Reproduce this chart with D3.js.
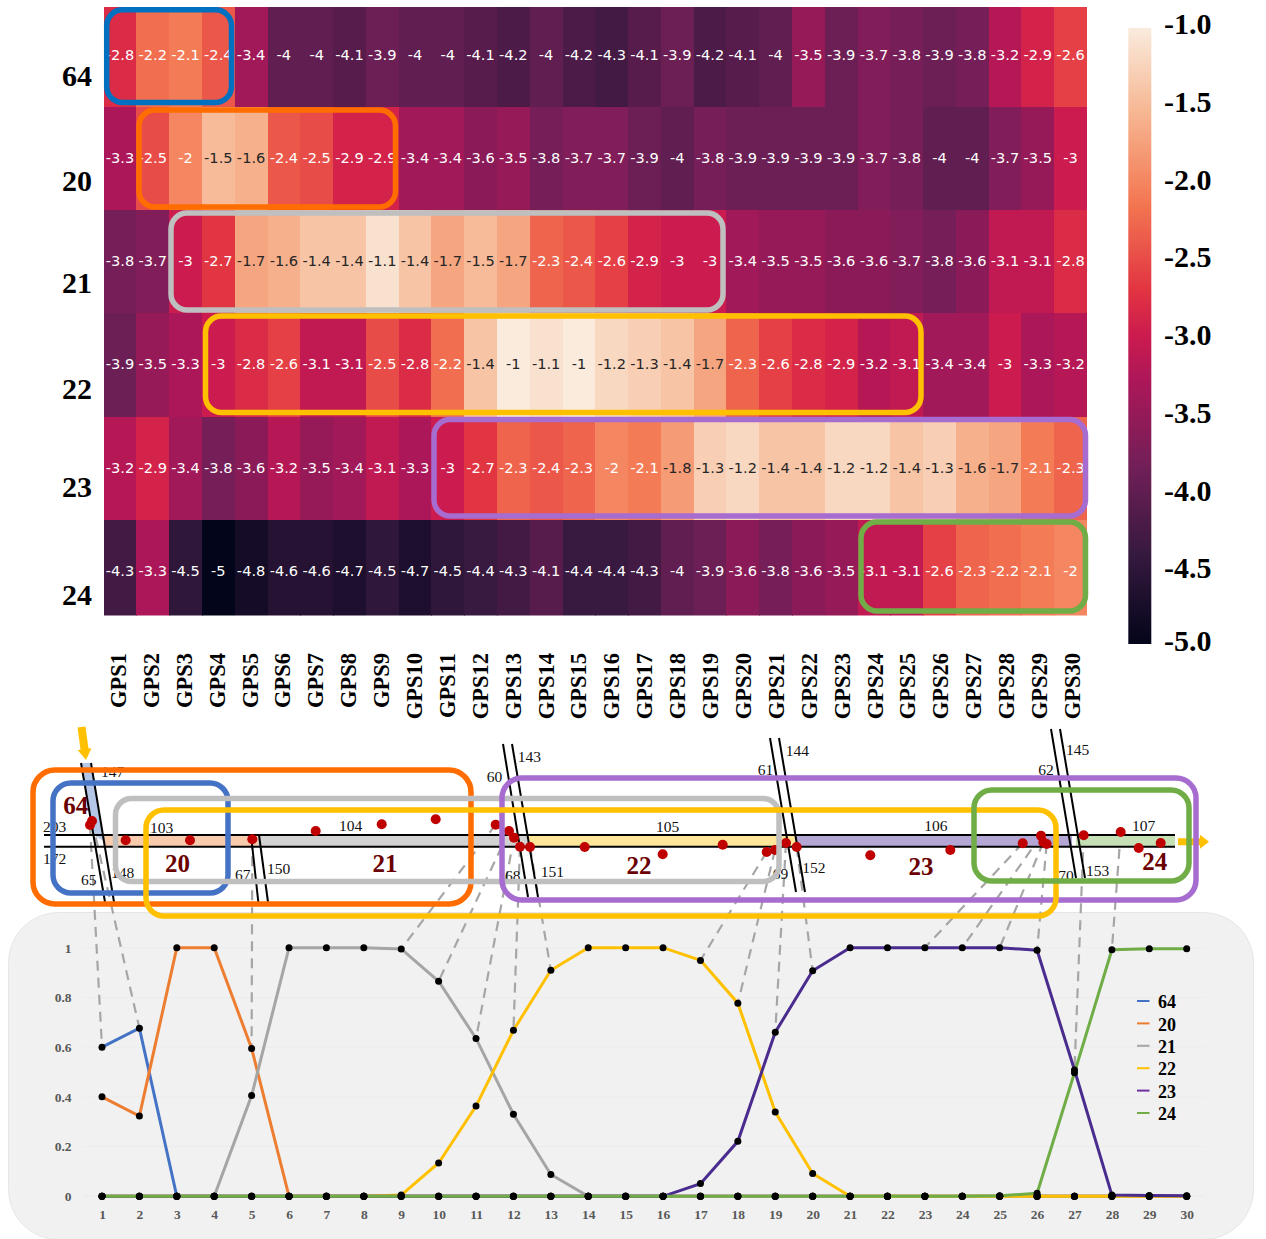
<!DOCTYPE html>
<html>
<head>
<meta charset="utf-8">
<script src="https://cdn.jsdelivr.net/npm/d3@7"></script>
<style>
html,body{margin:0;padding:0;background:#fff;}
svg{display:block;}
</style>
</head>
<body>
<svg id="c" width="1266" height="1239"></svg>
<script>
// ---------- Data ----------
const rowNames = ["64","20","21","22","23","24"];
const gpsNames = d3.range(1,31).map(i=>"GPS"+i);
const h64 = [-2.8,-2.2,-2.1,-2.4,-3.4,-4,-4,-4.1,-3.9,-4,-4,-4.1,-4.2,-4,-4.2,-4.3,-4.1,-3.9,-4.2,-4.1,-4,-3.5,-3.9,-3.7,-3.8,-3.9,-3.8,-3.2,-2.9,-2.6];
const h20 = [-3.3,-2.5,-2,-1.5,-1.6,-2.4,-2.5,-2.9,-2.9,-3.4,-3.4,-3.6,-3.5,-3.8,-3.7,-3.7,-3.9,-4,-3.8,-3.9,-3.9,-3.9,-3.9,-3.7,-3.8,-4,-4,-3.7,-3.5,-3];
const h21 = [-3.8,-3.7,-3,-2.7,-1.7,-1.6,-1.4,-1.4,-1.1,-1.4,-1.7,-1.5,-1.7,-2.3,-2.4,-2.6,-2.9,-3,-3,-3.4,-3.5,-3.5,-3.6,-3.6,-3.7,-3.8,-3.6,-3.1,-3.1,-2.8];
const h22 = [-3.9,-3.5,-3.3,-3,-2.8,-2.6,-3.1,-3.1,-2.5,-2.8,-2.2,-1.4,-1,-1.1,-1,-1.2,-1.3,-1.4,-1.7,-2.3,-2.6,-2.8,-2.9,-3.2,-3.1,-3.4,-3.4,-3,-3.3,-3.2];
const h23 = [-3.2,-2.9,-3.4,-3.8,-3.6,-3.2,-3.5,-3.4,-3.1,-3.3,-3,-2.7,-2.3,-2.4,-2.3,-2,-2.1,-1.8,-1.3,-1.2,-1.4,-1.4,-1.2,-1.2,-1.4,-1.3,-1.6,-1.7,-2.1,-2.3];
const h24 = [-4.3,-3.3,-4.5,-5,-4.8,-4.6,-4.6,-4.7,-4.5,-4.7,-4.5,-4.4,-4.3,-4.1,-4.4,-4.4,-4.3,-4,-3.9,-3.6,-3.8,-3.6,-3.5,-3.1,-3.1,-2.6,-2.3,-2.2,-2.1,-2];
const heatRows = [h64,h20,h21,h22,h23,h24];
const cbTicks = [-1,-1.5,-2,-2.5,-3,-3.5,-4,-4.5,-5];

const p64 = [0.6,0.676,0,0,0,0,0,0,0,0,0,0,0,0,0,0,0,0,0,0,0,0,0,0,0,0,0,0,0,0];
const p20 = [0.4,0.323,1,1,0.595,0,0,0,0,0,0,0,0,0,0,0,0,0,0,0,0,0,0,0,0,0,0,0,0,0];
const p21 = [0,0,0,0,0.405,1,1,1,0.995,0.865,0.635,0.33,0.088,0,0,0,0,0,0,0,0,0,0,0,0,0,0,0,0,0];
const p22 = [0,0,0,0,0,0,0,0,0.005,0.134,0.363,0.668,0.909,1,1,1,0.949,0.777,0.339,0.092,0,0,0,0,0,0,0,0,0,0];
const p23 = [0,0,0,0,0,0,0,0,0,0,0,0,0,0,0,0,0.051,0.221,0.66,0.907,1,1,1,1,1,0.99,0.508,0.005,0.003,0.002];
const p24 = [0,0,0,0,0,0,0,0,0,0,0,0,0,0,0,0,0,0,0,0,0,0,0,0,0.002,0.012,0.497,0.992,0.996,0.996];
const probSeries = [p64,p20,p21,p22,p23,p24];

// GPS positions along the genome schematic
const gpsPos = [90,92,125.7,190,252.3,315.7,381.7,435.7,495.7,509,514,520,530,584.7,662.7,722.7,766.7,775,786,796.7,870.3,950.3,1022.7,1041,1043.3,1046.7,1083.7,1120.7,1138.7,1160.7];
const gpsLift = [825,821,840.3,840.3,839.3,831,824.3,819.3,824.7,831,837.7,846.7,847,847,854.3,844.7,852,850,843,847,855.3,850,843.3,835.7,842.3,844,835.3,832,848,843];
const linkedGps = [1,2,5,9,10,11,12,13,17,18,19,20,23,24,25,26,27,28];

// ---------- Styles & layout ----------
const svg = d3.select("#c");
const serif = '"Liberation Serif","Times New Roman",serif';
const rocket = ["#03051a","#35193e","#701f57","#ad1759","#cb1b4f","#e13342","#f37651","#f6b48f","#faebdd"];
const rocketT = [0,1/7,2/7,3/7,0.5,4/7,5/7,6/7,1];
const color = d3.scaleLinear().domain(rocketT.map(t=>-5+4*t)).range(rocket).interpolate(d3.interpolateRgb);

const heatL=103.6, heatR=1087, heatTop=3.4, heatBot=623.2, clipTop=7, clipBot=615.6;
const xH = d3.scaleBand().domain(gpsNames).range([heatL,heatR]);
const yH = d3.scaleBand().domain(rowNames).range([heatTop,heatBot]);

svg.append("defs").append("clipPath").attr("id","hc").append("rect")
  .attr("x",heatL).attr("y",clipTop).attr("width",heatR-heatL).attr("height",clipBot-clipTop);

// ---------- Heatmap ----------
const gH = svg.append("g").attr("clip-path","url(#hc)");
const cells = rowNames.flatMap((r,i)=>gpsNames.map((g,j)=>({r,g,v:heatRows[i][j]})));
gH.selectAll("rect").data(cells).join("rect")
  .attr("x",d=>xH(d.g)).attr("y",d=>yH(d.r))
  .attr("width",xH.bandwidth()+0.6).attr("height",yH.bandwidth()+0.6)
  .attr("shape-rendering","crispEdges")
  .attr("fill",d=>color(d.v));
gH.selectAll("text").data(cells).join("text")
  .attr("x",d=>xH(d.g)+xH.bandwidth()/2).attr("y",d=>yH(d.r)+yH.bandwidth()/2-0.8)
  .attr("dy",".36em").attr("text-anchor","middle")
  .attr("font-family","DejaVu Sans").attr("font-size",14.6)
  .attr("fill",d=>d.v>-1.9?"#262626":"#fff")
  .text(d=>String(d.v));

// Row labels
const rowLabelY = {"64":76,"20":181,"21":282.5,"22":389,"23":487,"24":595};
svg.append("g").selectAll("text").data(rowNames).join("text")
  .attr("x",77).attr("y",d=>rowLabelY[d]).attr("dy",".34em").attr("text-anchor","middle")
  .attr("font-family",serif).attr("font-weight","bold").attr("font-size",30).text(d=>d);

// GPS labels
const xGps = d3.scalePoint().domain(gpsNames).range([118.5,1072.5]);
svg.append("g").selectAll("text").data(gpsNames).join("text")
  .attr("transform",d=>`translate(${xGps(d)},653) rotate(-90)`)
  .attr("text-anchor","end").attr("dy",".33em")
  .attr("font-family",serif).attr("font-weight","bold").attr("font-size",22.5).text(d=>d);

// Colourbar
const cbY = d3.scaleLinear().domain([-1,-5]).range([28,644]);
const cbGrad = svg.select("defs").append("linearGradient").attr("id","cb").attr("x1",0).attr("x2",0).attr("y1",0).attr("y2",1);
rocketT.slice().reverse().forEach((t,i)=>cbGrad.append("stop").attr("offset",1-t).attr("stop-color",color(-5+4*t)));
svg.append("rect").attr("x",1128.3).attr("y",cbY(-1)).attr("width",23).attr("height",cbY(-5)-cbY(-1)).attr("fill","url(#cb)");
const cbLabY = d3.scaleLinear().domain([-1,-5]).range([24,646]);
svg.append("g").selectAll("text").data(cbTicks).join("text")
  .attr("x",1164).attr("y",d=>Math.min(cbLabY(d),641)).attr("dy",".34em")
  .attr("font-family",serif).attr("font-weight","bold").attr("font-size",30)
  .text(d=>d.toFixed(1));

// Heatmap boxes
const box = (g,x0,y0,x1,y1,c,w,r)=>g.append("rect").attr("x",x0).attr("y",y0).attr("width",x1-x0).attr("height",y1-y0)
  .attr("rx",r).attr("ry",r).attr("fill","none").attr("stroke",c).attr("stroke-width",w);
const gB = svg.append("g");
box(gB,106.7,9.8,231.5,102.5,"#0070c0",5.5,16);
box(gB,139,110,395.5,207,"#ff6d00",5.5,16);
box(gB,171,213,723,310,"#bfbfbf",5.5,16);
box(gB,205.5,316,921,412.5,"#ffc000",5.5,16);
box(gB,434,419.5,1085.5,516,"#a66cd0",5.5,16);
box(gB,861,522,1085.5,611,"#70ad47",5.5,16);

// ---------- Line chart panel ----------
svg.append("rect").attr("x",8.5).attr("y",912.5).attr("width",1245).attr("height",327)
  .attr("rx",50).attr("ry",50).attr("fill","#f1f1f1").attr("stroke","#e6e6e6");

const xL = d3.scaleLinear().domain([1,30]).range([102,1186.7]);
const yL = d3.scaleLinear().domain([0,1]).range([1196.3,947.7]);
const idx = d3.range(1,31);

const gGrid = svg.append("g");
gGrid.selectAll("line").data(yL.ticks(5)).join("line")
  .attr("x1",83).attr("x2",1205).attr("y1",d=>yL(d)).attr("y2",d=>yL(d))
  .attr("stroke","#ececec").attr("stroke-width",1);

const xAxis = d3.axisBottom(xL).tickValues(idx).tickSize(0).tickPadding(0);
const yAxis = d3.axisLeft(yL).ticks(5).tickSize(0).tickPadding(0).tickFormat(d=>String(d));
const styleAxis = g=>{g.select(".domain").remove();
  g.selectAll("text").attr("font-family",serif).attr("font-weight","bold").attr("font-size",13.5).attr("fill","#595959");};
svg.append("g").attr("transform","translate(0,1209.5)").call(xAxis).call(styleAxis);
svg.append("g").attr("transform","translate(71.5,0)").call(yAxis).call(styleAxis);

// Dashed links
const maxAt = i=>d3.max(probSeries,s=>s[i]);
svg.append("g").selectAll("line").data(linkedGps).join("line")
  .attr("x1",d=>gpsPos[d-1]).attr("y1",d=>gpsLift[d-1])
  .attr("x2",d=>xL(d)).attr("y2",d=>yL(maxAt(d-1)))
  .attr("stroke","#a6a6a6").attr("stroke-width",2.2).attr("stroke-dasharray","10 7");

// Lines and points
const lineColors = ["#4472c4","#ed7d31","#a5a5a5","#ffc000","#4a2c8f","#70ad47"];
const line = d3.line().x((d,i)=>xL(i+1)).y(d=>yL(d));
svg.append("g").selectAll("path").data(probSeries).join("path")
  .attr("d",line).attr("fill","none").attr("stroke",(d,i)=>lineColors[i]).attr("stroke-width",3);
const gPts = svg.append("g");
probSeries.forEach(s=>{
  gPts.append("g").selectAll("circle").data(s).join("circle")
    .attr("cx",(d,i)=>xL(i+1)).attr("cy",d=>yL(d)).attr("r",3.5).attr("fill","#000");
});

// Legend
const legendColors = ["#4472c4","#ed7d31","#a5a5a5","#ffc000","#7030a0","#70ad47"];
const yLeg = d3.scalePoint().domain(rowNames).range([1001,1113]);
const gLeg = svg.append("g");
gLeg.selectAll("line").data(rowNames).join("line")
  .attr("x1",1137).attr("x2",1149.5).attr("y1",d=>yLeg(d)).attr("y2",d=>yLeg(d))
  .attr("stroke",(d,i)=>legendColors[i]).attr("stroke-width",2);
gLeg.selectAll("text").data(rowNames).join("text")
  .attr("x",1158).attr("y",d=>yLeg(d)+1).attr("dy",".34em")
  .attr("font-family",serif).attr("font-weight","bold").attr("font-size",18).text(d=>d);

// ---------- Genome schematic ----------
const gG = svg.append("g");
const slash = [
  {a:[81,763,105,902],b:[91,763,114,902]},
  {a:[251,835,258.3,902],b:[259,835,268,902]},
  {a:[503,744,528,897],b:[512,744,538,897]},
  {a:[770,738,796,892],b:[779,738,805,892]},
  {a:[1051,729,1076,878],b:[1060,729,1085,878]}
];
const at = (l,y)=>l[0]+(y-l[1])/(l[3]-l[1])*(l[2]-l[0]);
gG.append("polygon").attr("fill","#b4c7e7")
  .attr("points",[[81,763],[91,763],[at(slash[0].b,841),841],[at(slash[0].a,835),835]].join(" "));
const segs = [[103.7,258,"#f8cbad"],[258,528,"#d2d2d2"],[528,796,"#ffe699"],[796,1072,"#b4a7d6"],[1076,1175,"#c5e0b4"]];
gG.selectAll("rect.seg").data(segs).join("rect").attr("class","seg")
  .attr("x",d=>d[0]).attr("width",d=>d[1]-d[0]).attr("y",835).attr("height",11.7).attr("fill",d=>d[2]);
[835,846.7].forEach(y=>gG.append("line").attr("x1",44).attr("x2",1175).attr("y1",y).attr("y2",y).attr("stroke","#000").attr("stroke-width",2));
slash.forEach(s=>[s.a,s.b].forEach(l=>gG.append("line")
  .attr("x1",l[0]).attr("y1",l[1]).attr("x2",l[2]).attr("y2",l[3]).attr("stroke","#000").attr("stroke-width",2)));

// Arrows
const arrow=(x0,y0,x1,y1,bw,hw,hl)=>{
  const L=Math.hypot(x1-x0,y1-y0),ux=(x1-x0)/L,uy=(y1-y0)/L,nx=-uy,ny=ux,bx=x1-ux*hl,by=y1-uy*hl;
  gG.append("polygon").attr("fill","#ffc000").attr("points",[
    [x0+nx*bw/2,y0+ny*bw/2],[bx+nx*bw/2,by+ny*bw/2],[bx+nx*hw/2,by+ny*hw/2],[x1,y1],
    [bx-nx*hw/2,by-ny*hw/2],[bx-nx*bw/2,by-ny*bw/2],[x0-nx*bw/2,y0-ny*bw/2]].join(" "));
};
arrow(81.5,727,86,760,8,14,11);
arrow(1178,841.7,1209,841.7,7,14,9);

// Red dots
gG.append("g").selectAll("circle").data(gpsPos).join("circle")
  .attr("cx",d=>d).attr("cy",(d,i)=>gpsLift[i]).attr("r",5).attr("fill","#c00000");

// Small coordinate labels
const labelText = ["147","203","172","65","148","103","67","150","104","60","143","68","151","105","61","144","69","152","106","62","145","70","153","107"];
const labelXY = [[101,777],[43,831.7],[43,864],[81,885],[111,877.7],[150,832.7],[235,880],[267,874],[339,831],[486.7,781.7],[517.7,762.3],[505,881],[540.7,876.7],[656,831.7],[757.7,775],[785.7,756],[772.7,879],[802.3,872.7],[924.3,831],[1038.3,775],[1066,755],[1058.3,881],[1086,875.7],[1132,831]];
gG.append("g").selectAll("text").data(labelText).join("text")
  .attr("x",(d,i)=>labelXY[i][0]).attr("y",(d,i)=>labelXY[i][1])
  .attr("font-family",serif).attr("font-size",15.5).attr("fill","#111").text(d=>d);

// Region labels
const regionXY = {"64":[75.7,805.7],"20":[177.5,863.7],"21":[385,863.7],"22":[639,865.7],"23":[921,866],"24":[1154.7,861.7]};
gG.append("g").selectAll("text").data(rowNames).join("text")
  .attr("x",d=>regionXY[d][0]).attr("y",d=>regionXY[d][1]).attr("dy",".34em").attr("text-anchor","middle")
  .attr("font-family",serif).attr("font-weight","bold").attr("font-size",25).attr("fill","#6b0000").text(d=>d);

// Schematic boxes
box(gG,33,770,471,904,"#ff6d00",5.5,22);
box(gG,53,783,228,893,"#4472c4",5.5,18);
box(gG,115.5,798.5,779,881.5,"#bfbfbf",5.5,16);
box(gG,502,778,1196,900,"#a66cd0",5.5,20);
box(gG,146,810,1056,916,"#ffc000",5.5,18);
box(gG,974,790,1189,881,"#70ad47",5.5,18);
</script>
</body>
</html>
